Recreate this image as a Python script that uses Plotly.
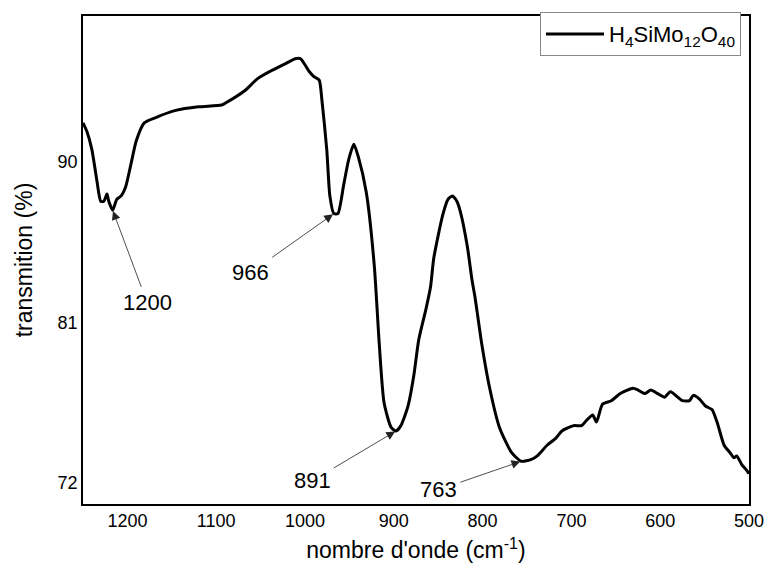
import numpy as np
import plotly.graph_objects as go

# FT-IR spectrum of H4SiMo12O40
wavenumber = [1250, 1245.5, 1240, 1234.5, 1230, 1226.6, 1223, 1221, 1216.6, 1212, 1207, 1202,
              1195.5, 1190, 1181, 1168, 1145.5, 1120, 1094, 1090, 1068, 1053, 1039, 1023, 1011,
              1005, 995.5, 990, 984, 981, 975.5, 972, 967.5, 963, 956.5, 951, 945, 940, 931, 922,
              916.4, 911, 903, 897.5, 892, 884, 877.5, 872, 864, 858.6, 855, 845, 839, 834, 829,
              825, 817, 812, 808.5, 801, 792, 781, 767.5, 756.5, 745, 738.5, 727.4, 717.4, 710.7,
              697.4, 688.5, 682.9, 676, 671.8, 665, 655, 645, 630.6, 625, 617, 610.6, 603, 595,
              588.5, 575, 567, 562.8, 556, 549, 541.7, 536, 528, 521.7, 517, 513.8, 508, 502.8, 500]
transmission = [92.2, 91.7, 90.7, 89.0, 87.8, 87.8, 88.2, 87.8, 87.3, 87.9, 88.1, 88.6,
                90.0, 91.2, 92.2, 92.5, 92.9, 93.1, 93.2, 93.3, 94.0, 94.7, 95.1, 95.5, 95.8,
                95.8, 95.1, 94.8, 94.6, 93.5, 90.7, 88.1, 87.1, 87.1, 88.7, 90.1, 91.0, 90.3, 88.3, 84.2,
                79.8, 76.5, 75.1, 74.9, 75.2, 76.3, 78.0, 80.0, 81.7, 83.0, 84.6, 87.0, 87.9, 88.1, 87.8,
                87.2, 85.2, 83.4, 82.4, 79.8, 77.3, 75.1, 73.7, 73.2, 73.3, 73.5, 74.1, 74.5, 74.9,
                75.2, 75.2, 75.5, 75.8, 75.4, 76.4, 76.6, 77.0, 77.3, 77.2, 77.0, 77.2, 77.0, 76.8,
                77.1, 76.6, 76.6, 76.9, 76.7, 76.3, 76.1, 75.4, 74.1, 73.7, 73.4, 73.5, 73.0, 72.7, 72.5]

# band positions marked on the spectrum
band_labels = [1200, 966, 891, 763]

x_ticks = [1200, 1100, 1000, 900, 800, 700, 600, 500]
y_ticks = [72, 81, 90]

FONT = "Liberation Sans, Arial, sans-serif"

fig = go.Figure()
fig.add_trace(go.Scatter(
    x=wavenumber, y=transmission, mode="lines",
    line=dict(color="black", width=3, shape="spline", smoothing=0.6),
    name="H<sub>4</sub>SiMo<sub>12</sub>O<sub>40</sub>",
    showlegend=True,
))

# each arrow points at the transmission minimum nearest to its band
text_pos = [(1177.7, 82.1), (1061, 83.8), (992, 72.1), (849.7, 71.6)]
wn = np.array(wavenumber)
tr = np.array(transmission)
for band, (tx, ty) in zip(band_labels, text_pos):
    window = np.abs(wn - band) <= 20
    idx = np.flatnonzero(window)[np.argmin(tr[window])]
    fig.add_annotation(
        x=float(wn[idx]), y=float(tr[idx]), ax=tx, ay=ty,
        axref="x", ayref="y", xref="x", yref="y",
        text=str(band), showarrow=True, arrowhead=2, arrowsize=2.2, arrowwidth=0.8,
        arrowcolor="#222222", standoff=1, startstandoff=2,
        font=dict(family=FONT, size=22, color="black"),
    )

axis_common = dict(
    showgrid=False, zeroline=False, showline=True, linecolor="black", linewidth=1.5,
    mirror=True, ticks="", tickfont=dict(family=FONT, size=18, color="black"),
)
fig.update_xaxes(
    range=[1250, 500], tickvals=x_ticks,
    title=dict(text="nombre d'onde (cm<sup>-1</sup>)", font=dict(family=FONT, size=23, color="black"),
               standoff=12),
    **axis_common,
)
fig.update_yaxes(
    range=[70.8, 98.2], tickvals=y_ticks,
    title=dict(text="transmition (%)", font=dict(family=FONT, size=23, color="black"), standoff=19),
    **axis_common,
)

fig.update_layout(
    width=776, height=571,
    margin=dict(l=83, r=19, t=14, b=60),
    plot_bgcolor="white", paper_bgcolor="white",
    font=dict(family=FONT, color="black"),
    legend=dict(
        x=0.988, y=1.008, xanchor="right", yanchor="top",
        bgcolor="white", bordercolor="#888888", borderwidth=1,
        font=dict(family=FONT, size=22, color="black"),
        itemwidth=58,
    ),
)

fig.write_html("out.html")
